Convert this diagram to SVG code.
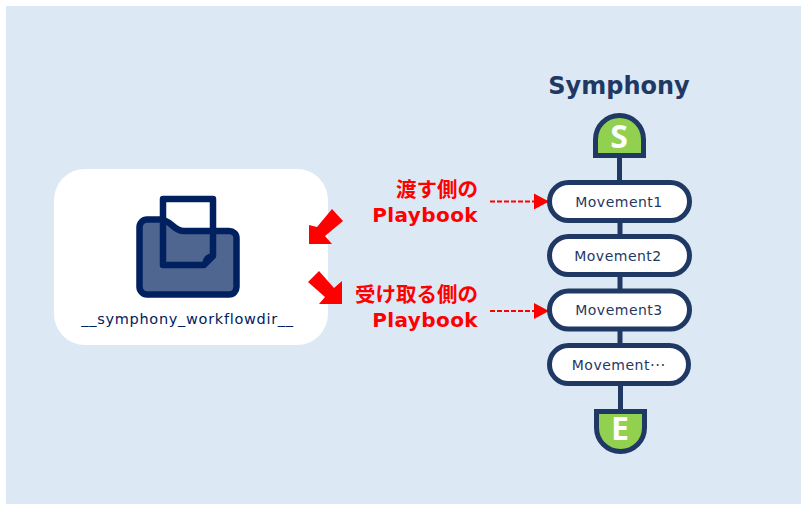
<svg xmlns="http://www.w3.org/2000/svg" width="807" height="511" viewBox="0 0 807 511">
<style>
.red{font-family:"DejaVu Sans","Noto Sans CJK JP",sans-serif;font-weight:700;font-size:20.500px;fill:#ff0000;text-anchor:end}
.pb{font-size:20px;letter-spacing:.4px}
.mv{font-family:"DejaVu Sans","Noto Sans CJK JP",sans-serif;font-size:14px;letter-spacing:.5px;fill:#1f3864;text-anchor:middle}
.pill{fill:#fff;stroke:#1f3864;stroke-width:5}
.cap{fill:#92d050;stroke:#1f3864;stroke-width:5}
.capt{font-family:"Noto Sans","DejaVu Sans",sans-serif;font-weight:700;font-size:32px;fill:#fff;text-anchor:middle}
.link{stroke:#1f3864;stroke-width:5;fill:none}
.dash{stroke:#ff0000;stroke-width:2;stroke-dasharray:5 2;fill:none;marker-end:url(#ah)}
</style>
<defs><marker id="ah" markerUnits="userSpaceOnUse" markerWidth="16" markerHeight="18" refX="15" refY="9" orient="auto"><path d="M0 1L15 9L0 17Z" fill="#ff0000"/></marker></defs>
<rect width="807" height="511" fill="#fff"/>
<rect x="6" y="6" width="795" height="498" fill="#dde8f5"/>
<g id="workflowdir">
<rect x="54" y="169" width="274" height="176" rx="31" fill="#fff"/>
<rect x="163" y="199" width="50" height="40" fill="#fff"/>
<path d="M147 219.500H160C171 219.500 173 231 184 231H229C233.500 231 236.500 234 236.500 238V287C236.500 291 233.500 294.500 229 294.500H147C143 294.500 139.500 291 139.500 287V227C139.500 223 143 219.500 147 219.500Z" fill="#4f6690" stroke="#002060" stroke-width="6.500"/>
<path d="M163 199H213V256L204 265H163Z" fill="none" stroke="#002060" stroke-width="6.500" stroke-linejoin="round"/>
<path d="M202 266C202 258 206 253 214 253V258L205 267Z" fill="#002060"/>
<text x="187.500" y="324" font-family="DejaVu Sans, sans-serif" font-size="14.500" letter-spacing=".7" fill="#002060" text-anchor="middle">__symphony_workflowdir__</text>
</g>
<g id="connectors">
<line class="link" x1="619.500" y1="155" x2="619.500" y2="182"/>
<line class="link" x1="620" y1="222" x2="620" y2="236"/>
<line class="link" x1="620" y1="276" x2="620" y2="290"/>
<line class="link" x1="620" y1="330" x2="620" y2="345"/>
<line class="link" x1="620.500" y1="385" x2="620.500" y2="410"/>
<path class="dash" d="M490 201.500H549"/>
<path class="dash" d="M490 311H549"/>
<polygon id="arrow-in" fill="#ff0000" points="309,244 309,225 317,227 332,209 343,221 325,236 332,244"/>
<polygon id="arrow-out" fill="#ff0000" points="342,281 342,304 319,304 325,297 308,282 319,271 334,288"/>
</g>
<g id="label-give">
<text class="red" x="478" y="197">渡す側の</text>
<text class="red pb" x="478" y="222">Playbook</text>
</g>
<g id="label-receive">
<text class="red" x="478" y="302">受け取る側の</text>
<text class="red pb" x="478" y="327">Playbook</text>
</g>
<g id="title"><text x="619" y="93.500" font-family="DejaVu Sans, sans-serif" font-weight="700" font-size="24" fill="#1f3864" text-anchor="middle">Symphony</text></g>
<g id="start">
<path class="cap" d="M595.500 155.500V139.500C595.500 126 606 115.500 619.500 115.500C633 115.500 643.500 126 643.500 139.500V155.500Z"/>
<text class="capt" x="619" y="148">S</text>
</g>
<g id="m1"><rect class="pill" x="549.500" y="182.500" width="140" height="38" rx="19"/><text class="mv" x="619" y="206.500">Movement1</text></g>
<g id="m2"><rect class="pill" x="549.500" y="236.500" width="140" height="38" rx="19"/><text class="mv" x="618" y="260.500">Movement2</text></g>
<g id="m3"><rect class="pill" x="549.500" y="291" width="140" height="38" rx="19"/><text class="mv" x="619" y="315">Movement3</text></g>
<g id="m4"><rect class="pill" x="549.500" y="345.500" width="139" height="38" rx="19"/><text class="mv" x="618.500" y="369.500">Movement<tspan font-family="Noto Sans CJK JP" dy="-4">…</tspan></text></g>
<g id="end">
<path class="cap" d="M596.500 411.500V427.500C596.500 441 607 451.500 620.500 451.500C634 451.500 644.500 441 644.500 427.500V411.500Z"/>
<text class="capt" x="620" y="440">E</text>
</g>
</svg>
